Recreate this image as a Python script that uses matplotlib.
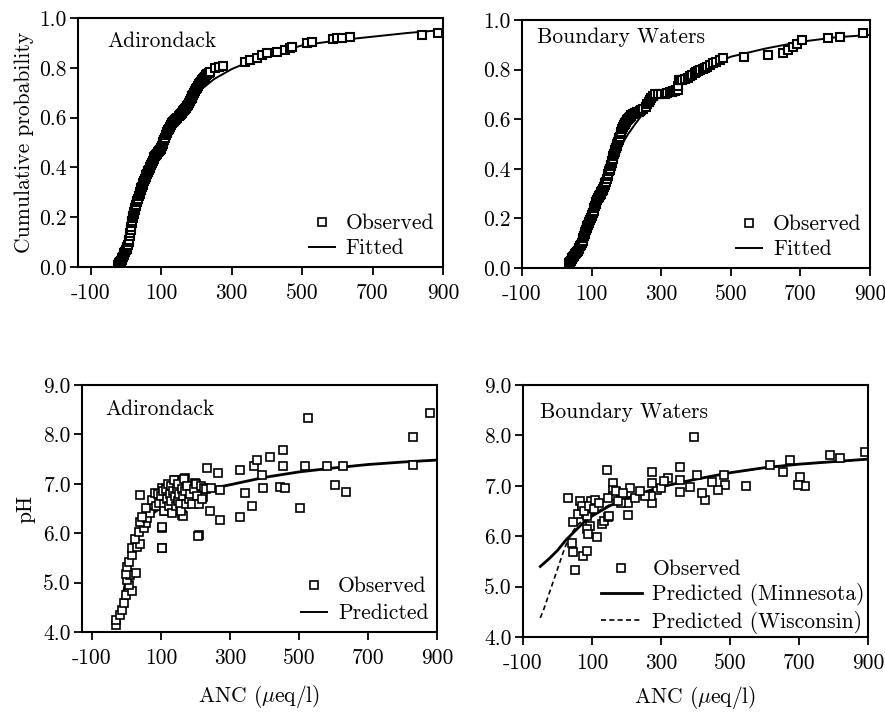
import matplotlib
matplotlib.use("Agg")
import matplotlib.pyplot as plt
from matplotlib.lines import Line2D

plt.rcParams["font.family"] = ["cmr10", "DejaVu Serif"]
plt.rcParams["mathtext.fontset"] = "cm"
plt.rcParams["axes.unicode_minus"] = False
plt.rcParams["axes.formatter.use_mathtext"] = False

# ---- Adirondack, cumulative distribution of ANC ----
adk_cdf_anc = [-23, -21, -19, -17, -15, -13, -11, -9, -7, -5, -3, -1, 1, 3, 5, 7, 8, 10, 11, 13,
               14, 16, 17, 18, 19, 21, 22, 24, 25, 27, 29, 31, 32, 34, 36, 38, 39, 41, 43, 45, 47,
               49, 51, 53, 55, 57, 59, 61, 63, 64, 67, 69, 71, 73, 75, 78, 80, 83, 85, 88, 90, 93,
               95, 98, 100, 102, 104, 106, 108, 111, 113, 115, 117, 120, 122, 125, 127, 130, 133,
               136, 139, 142, 145, 149, 152, 155, 158, 161, 164, 167, 170, 173, 176, 179, 181, 184,
               186, 188, 190, 193, 196, 199, 202, 205, 208, 211, 213, 216, 219, 222, 225, 228, 231,
               234, 237, 251, 263, 275, 337, 352, 371, 385, 400, 428, 452, 465, 471, 513, 527, 588,
               600, 613, 636, 840, 886]
adk_cdf_prob = [0.010, 0.013, 0.017, 0.020, 0.025, 0.030, 0.035, 0.041, 0.048, 0.055, 0.061, 0.068,
                0.073, 0.080, 0.088, 0.10, 0.11, 0.125, 0.135, 0.15, 0.16, 0.175, 0.185, 0.195,
                0.205, 0.213, 0.22, 0.228, 0.235, 0.243, 0.25, 0.26, 0.265, 0.275, 0.285, 0.293,
                0.30, 0.31, 0.317, 0.323, 0.33, 0.338, 0.345, 0.352, 0.36, 0.37, 0.375, 0.38, 0.386,
                0.39, 0.396, 0.403, 0.41, 0.418, 0.425, 0.433, 0.44, 0.445, 0.45, 0.455, 0.46,
                0.465, 0.47, 0.474, 0.477, 0.486, 0.495, 0.503, 0.51, 0.52, 0.53, 0.537, 0.543,
                0.55, 0.555, 0.563, 0.57, 0.577, 0.584, 0.588, 0.592, 0.596, 0.60, 0.605, 0.61,
                0.615, 0.62, 0.625, 0.63, 0.635, 0.64, 0.645, 0.65, 0.658, 0.665, 0.673, 0.68,
                0.685, 0.69, 0.698, 0.705, 0.713, 0.72, 0.727, 0.733, 0.739, 0.744, 0.75, 0.755,
                0.76, 0.765, 0.77, 0.775, 0.78, 0.784, 0.798, 0.803, 0.808, 0.825, 0.83, 0.84, 0.85,
                0.86, 0.865, 0.87, 0.88, 0.885, 0.90, 0.905, 0.915, 0.918, 0.92, 0.925, 0.93, 0.94]
adk_fit_anc = [-25, -10, 0, 20, 40, 60, 80, 100, 125, 150, 175, 200, 228, 250, 300, 350, 400, 450,
               500, 600, 700, 800, 900]
adk_fit_prob = [0.0, 0.04, 0.09, 0.20, 0.30, 0.38, 0.44, 0.49, 0.55, 0.61, 0.66, 0.70, 0.73, 0.755,
                0.795, 0.825, 0.85, 0.87, 0.89, 0.91, 0.925, 0.94, 0.952]

# ---- Boundary Waters, cumulative distribution of ANC ----
bw_cdf_anc = [35, 38, 40, 43, 45, 48, 50, 53, 55, 58, 60, 63, 65, 68, 70, 72, 74, 76, 78, 80, 82,
              84, 86, 88, 90, 92, 94, 96, 98, 100, 102, 104, 106, 108, 110, 112, 114, 116, 118,
              120, 122, 124, 126, 128, 130, 132, 134, 136, 138, 140, 142, 144, 146, 148, 150, 152,
              153, 155, 156, 158, 159, 161, 162, 164, 166, 168, 170, 172, 174, 176, 178, 180, 182,
              184, 185, 187, 190, 192, 195, 197, 200, 203, 205, 208, 210, 212, 214, 220, 225, 230,
              235, 240, 243, 249, 255, 260, 265, 268, 272, 276, 281, 290, 300, 310, 318, 325, 330,
              335, 340, 344, 347, 349, 352, 356, 360, 368, 376, 383, 390, 396, 401, 407, 413, 419,
              425, 432, 439, 448, 459, 468, 477, 537, 606, 649, 664, 678, 690, 704, 779, 813, 880]
bw_cdf_prob = [0.02, 0.025, 0.03, 0.035, 0.04, 0.045, 0.05, 0.055, 0.06, 0.065, 0.07, 0.075, 0.08,
               0.087, 0.093, 0.10, 0.11, 0.12, 0.13, 0.138, 0.145, 0.153, 0.16, 0.168, 0.175, 0.181,
               0.187, 0.193, 0.20, 0.208, 0.215, 0.223, 0.23, 0.24, 0.25, 0.258, 0.265, 0.273,
               0.281, 0.286, 0.29, 0.295, 0.30, 0.305, 0.31, 0.315, 0.32, 0.328, 0.335, 0.342,
               0.348, 0.36, 0.37, 0.38, 0.39, 0.395, 0.40, 0.41, 0.415, 0.425, 0.43, 0.44, 0.45,
               0.46, 0.469, 0.477, 0.485, 0.493, 0.50, 0.508, 0.515, 0.523, 0.53, 0.54, 0.55, 0.56,
               0.57, 0.575, 0.58, 0.585, 0.59, 0.595, 0.60, 0.605, 0.61, 0.614, 0.617, 0.621, 0.625,
               0.628, 0.63, 0.634, 0.637, 0.643, 0.65, 0.66, 0.67, 0.677, 0.684, 0.692, 0.70, 0.70,
               0.70, 0.703, 0.705, 0.708, 0.71, 0.712, 0.715, 0.717, 0.718, 0.735, 0.758, 0.759,
               0.76, 0.763, 0.766, 0.773, 0.78, 0.785, 0.79, 0.795, 0.80, 0.803, 0.806, 0.812,
               0.819, 0.825, 0.83, 0.84, 0.847, 0.85, 0.859, 0.867, 0.879, 0.891, 0.905, 0.92,
               0.927, 0.931, 0.948]
bw_fit_anc = [30, 50, 75, 100, 125, 150, 175, 205, 225, 252, 300, 350, 400, 450, 500, 600, 700,
              800, 900]
bw_fit_prob = [0.0, 0.03, 0.10, 0.20, 0.30, 0.39, 0.47, 0.54, 0.58, 0.63, 0.697, 0.745, 0.786,
               0.82, 0.852, 0.885, 0.912, 0.93, 0.94]

# ---- Adirondack, pH vs ANC ----
adk_ph_anc = [-32, -32, -18, -13, -8, -3, 16, 6, 2, 11, -3, 26, 1, 6, 16, 16, 30, 40, 25, 35, 50,
              55, 40, 59, 69, 45, 55, 74, 40, 83, 97, 103, 127, 141, 170, 199, 124, 112, 160, 103,
              103, 209, 165, 222, 85, 90, 95, 100, 105, 108, 110, 115, 118, 120, 122, 125, 128,
              130, 133, 135, 138, 140, 143, 145, 148, 150, 153, 155, 158, 160, 163, 168, 170, 173,
              176, 180, 185, 190, 195, 200, 205, 210, 215, 220, 225, 230, 245, 102, 102, 208, 242,
              232, 266, 270, 271, 329, 329, 343, 365, 370, 377, 392, 397, 416, 445, 454, 454, 460,
              503, 517, 527, 580, 604, 628, 635, 831, 831, 880]
adk_ph = [4.14, 4.24, 4.34, 4.44, 4.58, 4.75, 4.82, 4.95, 5.05, 5.15, 5.18, 5.19, 5.32, 5.42, 5.56,
          5.69, 5.72, 5.79, 5.89, 6.03, 6.10, 6.20, 6.23, 6.30, 6.40, 6.33, 6.50, 6.67, 6.77, 6.81,
          6.70, 6.91, 6.98, 7.08, 7.11, 7.01, 6.78, 6.44, 6.37, 6.10, 5.70, 5.96, 6.35, 6.74, 6.55,
          6.80, 6.62, 6.75, 6.85, 6.60, 6.45, 6.90, 6.70, 7.00, 6.55, 6.80, 6.95, 6.65, 6.40,
          6.85, 7.08, 6.75, 6.55, 6.90, 6.65, 7.00, 6.80, 6.60, 6.45, 6.90, 6.75, 7.10, 6.85,
          6.60, 6.95, 6.70, 6.80, 6.60, 6.90, 7.00, 6.75, 6.60, 6.95, 6.70, 6.92, 6.90, 6.92,
          6.13, 5.69, 5.94, 6.44, 7.31, 7.21, 6.87, 6.27, 7.28, 6.33, 6.81, 6.54, 7.35, 7.48,
          7.18, 6.91, 7.55, 6.94, 7.68, 7.35, 6.91, 6.50, 7.35, 8.34, 7.36, 6.98, 7.35, 6.84,
          7.95, 7.38, 8.43]
adk_pred_anc = [-30, -20, -10, 0, 10, 20, 30, 40, 60, 80, 100, 150, 200, 250, 300, 400, 500, 600,
                700, 800, 900]
adk_pred_ph = [4.15, 4.40, 4.75, 5.10, 5.45, 5.75, 5.95, 6.10, 6.30, 6.42, 6.52, 6.72, 6.85, 6.91,
               6.98, 7.13, 7.24, 7.32, 7.39, 7.44, 7.48]

# ---- Boundary Waters, pH vs ANC ----
bw_ph_anc = [891, 819, 790, 703, 717, 696, 674, 655, 616, 546, 486, 483, 466, 447, 428, 420, 403,
             384, 395, 355, 355, 355, 321, 288, 273, 273, 273, 270, 254, 205, 205, 210, 185, 162,
             162, 142, 160, 146, 31, 70, 98, 85, 94, 85, 114, 88, 46, 41, 46, 75, 85, 51, 60, 65,
             72, 78, 92, 105, 110, 120, 130, 135, 145, 150, 170, 175, 190, 225, 240, 300, 310]
bw_ph = [7.68, 7.55, 7.61, 7.18, 6.99, 7.02, 7.51, 7.28, 7.41, 7.00, 7.02, 7.22, 6.92, 7.08, 6.72,
         6.85, 7.21, 6.98, 7.97, 7.38, 7.12, 6.88, 7.15, 6.92, 7.28, 7.05, 6.65, 6.80, 6.80, 6.65,
         6.42, 6.95, 6.65, 7.05, 6.92, 7.31, 6.80, 6.75, 6.75, 6.55, 6.70, 6.40, 6.20, 6.14, 5.98,
         6.05, 6.28, 5.86, 5.68, 5.60, 5.70, 5.33, 6.45, 6.70, 6.60, 6.50, 6.60, 6.55, 6.72, 6.65,
         6.25, 6.30, 6.38, 6.40, 6.90, 6.70, 6.85, 6.75, 6.90, 6.95, 7.10]
bw_mn_anc = [-50, -25, 0, 25, 50, 75, 100, 150, 200, 250, 300, 400, 500, 600, 700, 800, 900]
bw_mn_ph = [5.40, 5.55, 5.72, 5.93, 6.10, 6.27, 6.40, 6.60, 6.75, 6.87, 6.98, 7.13, 7.26, 7.36,
            7.43, 7.48, 7.53]
bw_wi_anc = [-50, -40, -30, -20, -10, 0, 10, 20, 30, 40, 50, 60, 75, 100, 150, 200, 300, 400, 500,
             600, 700, 800, 900]
bw_wi_ph = [4.38, 4.55, 4.75, 4.95, 5.15, 5.35, 5.55, 5.75, 5.92, 6.05, 6.15, 6.24, 6.32, 6.43,
            6.62, 6.76, 6.98, 7.13, 7.26, 7.36, 7.43, 7.48, 7.53]

xticks = [-100, 100, 300, 500, 700, 900]
FS = 15.5
mk = dict(marker="s", ms=5.5, mfc="white", mec="black", mew=1.2, ls="none")
mk_cdf = dict(marker="s", ms=5.5, mfc="white", mec="black", mew=1.5, ls="none")


def style_axes(ax, xlim, ylim, yticks, yfmt):
    ax.set_xlim(*xlim)
    ax.set_ylim(*ylim)
    ax.set_xticks(xticks)
    ax.set_xticklabels([str(v) for v in xticks], fontsize=FS)
    ax.set_yticks(yticks)
    ax.set_yticklabels([yfmt.format(v) for v in yticks], fontsize=FS)
    ax.tick_params(direction="out", length=6, width=1.3)
    ax.tick_params(axis="x", pad=6)
    ax.tick_params(axis="y", pad=2)
    for s in ax.spines.values():
        s.set_linewidth(1.5)


fig = plt.figure(figsize=(8.85, 7.12), dpi=100)

ax1 = fig.add_axes([0.0881, 0.625, 0.4124, 0.3497])
ax2 = fig.add_axes([0.5898, 0.6236, 0.3932, 0.3483])
ax3 = fig.add_axes([0.0927, 0.1124, 0.4011, 0.3469])
ax4 = fig.add_axes([0.591, 0.1053, 0.3898, 0.3539])

cp_ticks = [0.0, 0.2, 0.4, 0.6, 0.8, 1.0]
ph_ticks = [4.0, 5.0, 6.0, 7.0, 8.0, 9.0]

# top-left
ax1.plot(adk_fit_anc, adk_fit_prob, color="black", lw=1.4)
ax1.plot(adk_cdf_anc, adk_cdf_prob, **mk_cdf)
style_axes(ax1, (-137, 900), (0, 1), cp_ticks, "{:.1f}")
ax1.set_ylabel("Cumulative probability", fontsize=FS, labelpad=4)
ax1.text(0.08, 0.905, "Adirondack", transform=ax1.transAxes, fontsize=FS, va="center")

# top-right
ax2.plot(bw_fit_anc, bw_fit_prob, color="black", lw=1.4)
ax2.plot(bw_cdf_anc, bw_cdf_prob, **mk_cdf)
style_axes(ax2, (-100, 900), (0, 1), cp_ticks, "{:.1f}")
ax2.text(0.043, 0.93, "Boundary Waters", transform=ax2.transAxes, fontsize=FS, va="center")

# bottom-left
ax3.plot(adk_pred_anc, adk_pred_ph, color="black", lw=2.0)
ax3.plot(adk_ph_anc, adk_ph, **mk)
style_axes(ax3, (-129, 900), (4, 9), ph_ticks, "{:.1f}")
ax3.set_ylabel("pH", fontsize=FS, labelpad=6)
ax3.set_xlabel(r"ANC ($\mu$eq/l)", fontsize=FS, va="center")
ax3.xaxis.set_label_coords(0.5, (632 - 697) / 247)
ax3.text(0.065, 0.9, "Adirondack", transform=ax3.transAxes, fontsize=FS, va="center")

# bottom-right
ax4.plot(bw_mn_anc, bw_mn_ph, color="black", lw=2.0)
ax4.plot(bw_wi_anc, bw_wi_ph, color="black", lw=1.2, ls=(0, (3, 2)))
ax4.plot(bw_ph_anc, bw_ph, **mk)
style_axes(ax4, (-100, 900), (4, 9), ph_ticks, "{:.1f}")
ax4.set_xlabel(r"ANC ($\mu$eq/l)", fontsize=FS, va="center")
ax4.xaxis.set_label_coords(0.5, (637 - 697) / 252)
ax4.text(0.05, 0.893, "Boundary Waters", transform=ax4.transAxes, fontsize=FS, va="center")

obs_h = Line2D([], [], **mk)
line_h = Line2D([], [], color="black", lw=1.4)
leg_kw = dict(frameon=False, fontsize=FS, handlelength=1.2, handletextpad=0.5,
              labelspacing=0.25, borderaxespad=0.0, loc="lower right")
ax1.legend([obs_h, line_h], ["Observed", "Fitted"], **leg_kw)
ax2.legend([obs_h, line_h], ["Observed", "Fitted"], **leg_kw)
ax3.legend([obs_h, Line2D([], [], color="black", lw=1.4)], ["Observed", "Predicted"],
           frameon=False, fontsize=FS, handlelength=1.2, handletextpad=0.5,
           labelspacing=0.35, borderaxespad=0.0, loc="lower right")
ax4.legend([obs_h, Line2D([], [], color="black", lw=2.0),
            Line2D([], [], color="black", lw=1.2, ls=(0, (3, 2)))],
           ["Observed", "Predicted (Minnesota)", "Predicted (Wisconsin)"],
           frameon=False, fontsize=FS, handlelength=1.9, handletextpad=0.5,
           labelspacing=0.2, borderaxespad=-0.25, loc="lower right")

fig.savefig("out.png", dpi=100)
